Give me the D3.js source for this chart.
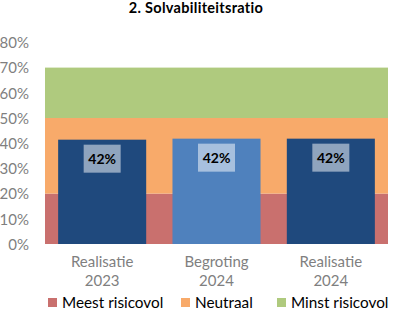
<!DOCTYPE html>
<html><head><meta charset="utf-8">
<script src="https://cdn.jsdelivr.net/npm/d3@7"></script>
<style>body{margin:0;background:#fff}svg{display:block}</style>
</head><body>
<svg id="c" width="400" height="328"></svg>
<script>
const title = "2. Solvabiliteitsratio";
const categories = [["Realisatie","2023"],["Begroting","2024"],["Realisatie","2024"]];
const values = [41.4, 41.8, 41.8];
const valueLabels = ["42%","42%","42%"];
const barColors = ["#1F497D","#4F81BD","#1F497D"];
const bandNames = ["Meest risicovol","Neutraal","Minst risicovol"];
const bandStarts = [0, 20, 50];
const bandEnds = [20, 50, 70];
const bandColors = ["#C9706E","#F8AA6A","#AFCA7E"];
const yTicks = [0,10,20,30,40,50,60,70,80];

const svg = d3.select("#c");
const font = "Lato, 'Open Sans', sans-serif";
const L = 45, R = 388, T = 42.4, B = 244;
const y = d3.scaleLinear().domain([0,80]).range([B,T]);
const x = d3.scaleBand().domain(d3.range(categories.length)).range([L,R]).paddingInner(0.23).paddingOuter(0.115);

svg.append("text").attr("x",196).attr("y",13).attr("text-anchor","middle")
  .attr("font-family",font).attr("font-weight","bold").attr("font-size",14.5).attr("letter-spacing",0.3).attr("fill","#000").text(title);

// background bands
svg.selectAll("rect.band").data(bandNames).enter().append("rect")
  .attr("x",L).attr("width",R-L)
  .attr("y",(d,i)=>y(bandEnds[i])).attr("height",(d,i)=>y(bandStarts[i])-y(bandEnds[i]))
  .attr("fill",(d,i)=>bandColors[i]);

// y axis
const yAxis = d3.axisLeft(y).tickValues(yTicks).tickFormat(d=>d+"%").tickSize(0).tickPadding(0);
const ga = svg.append("g").attr("transform","translate(29,0)").call(yAxis);
ga.select(".domain").remove();
ga.selectAll("text").attr("font-family",font).attr("font-size",15).attr("fill","#7F7F7F").attr("dy","0.35em");

// bars
svg.selectAll("rect.bar").data(values).enter().append("rect")
  .attr("x",(d,i)=>x(i)).attr("width",x.bandwidth())
  .attr("y",d=>y(d)).attr("height",d=>B-y(d))
  .attr("fill",(d,i)=>barColors[i]);

// labels
const lg = svg.selectAll("g.lab").data(values).enter().append("g")
  .attr("transform",(d,i)=>`translate(${x(i)+x.bandwidth()/2},${y(d)+19})`);
lg.append("rect").attr("x",-18.5).attr("y",-14).attr("width",37).attr("height",28)
  .attr("fill","#fff").attr("fill-opacity",0.5);
lg.append("text").attr("text-anchor","middle").attr("dy","0.36em")
  .attr("font-family",font).attr("font-weight","bold").attr("font-size",14).attr("fill","#000")
  .text((d,i)=>valueLabels[i]);

// x labels
const xg = svg.selectAll("text.xl").data(categories).enter().append("text")
  .attr("text-anchor","middle").attr("font-family",font).attr("font-size",15).attr("fill","#7F7F7F");
xg.append("tspan").attr("x",(d,i)=>x(i)+x.bandwidth()/2).attr("y",267).text(d=>d[0]);
xg.append("tspan").attr("x",(d,i)=>x(i)+x.bandwidth()/2).attr("y",286).text(d=>d[1]);

// legend
const legX = [48, 181, 277];
const leg = svg.selectAll("g.leg").data(bandNames).enter().append("g")
  .attr("transform",(d,i)=>`translate(${legX[i]},298)`);
leg.append("rect").attr("width",9).attr("height",9).attr("fill",(d,i)=>bandColors[i]);
leg.append("text").attr("x",14).attr("y",4.5).attr("dy","0.36em")
  .attr("font-family",font).attr("font-size",15.3).attr("fill","#000").text(d=>d);
</script>
</body></html>
